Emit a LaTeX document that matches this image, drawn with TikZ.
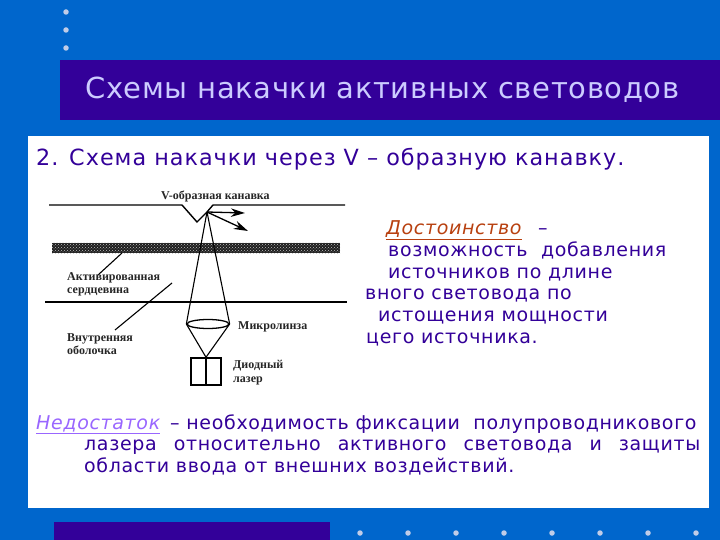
\documentclass[tikz,border=0pt]{standalone}
\usepackage{fontspec}
\setmainfont{DejaVu Sans}
\newfontfamily\figfont{Liberation Serif}
\newfontfamily\wideface[LetterSpace=3.5]{DejaVu Sans}
\newfontfamily\headface[LetterSpace=4.5]{DejaVu Sans}
\newfontfamily\titleface[LetterSpace=2.2]{DejaVu Sans}
\usepackage{xcolor}
\usetikzlibrary{arrows.meta, patterns, shapes.geometric}
\definecolor{slideblue}{HTML}{0066CC}
\definecolor{slideviolet}{HTML}{330099}
\definecolor{titlelilac}{HTML}{CCCCFF}
\definecolor{dotgrey}{HTML}{C0CCE8}
\definecolor{meritred}{HTML}{B8400F}
\definecolor{flawviolet}{HTML}{9966FF}

\begin{document}
\begin{tikzpicture}[
  x=1pt, y=-1pt,
  dot/.style={circle, fill=dotgrey, inner sep=0pt, minimum size=5.5pt},
  bar/.style={fill=slideviolet, draw=none},
  bodytext/.style={anchor=base west, inner sep=0pt, text=slideviolet, font=\wideface\fontsize{19}{20}\selectfont},
  figtext/.style={anchor=base west, inner sep=0pt, text=black!85, font=\figfont\bfseries\fontsize{12}{13}\selectfont, align=left},
  fibre/.style={line width=1.4pt, black},
  ray/.style={line width=1.1pt, black},
  arr/.style={-{Stealth[length=5mm, width=3mm]}, line width=1.3pt, black},
]
  \useasboundingbox (0,0) rectangle (720,540);
  \fill[slideblue] (0,0) rectangle (720,540);
  % top dots and bars
  \foreach \y in {12,30,48} \node[dot] (topdot\y) at (66,\y) {};
  \foreach \x in {360,408,...,696} \node[dot] (botdot\x) at (\x,533) {};
  \fill[bar] (60,60) rectangle (720,120);
  \fill[bar] (54,522) rectangle (330,540);
  \fill[white] (28,136) rectangle (709,508);
  \node[anchor=base west, inner sep=0pt, text=titlelilac, font=\titleface\fontsize{29}{34}\selectfont] (title) at (85,99) {Схемы накачки активных световодов};
  \node[bodytext, font=\headface\fontsize{22.3}{24}\selectfont] (heading) at (36,166) {2. Схема накачки через V – образную канавку.};

  % fibre figure
  \coordinate (topL) at (49,205);
  \coordinate (grooveA) at (182,205);
  \coordinate (grooveB) at (197,222);
  \coordinate (tip) at (207,212);
  \coordinate (grooveC) at (213,205);
  \coordinate (topR) at (345,205);
  \draw[fibre] (topL) -- (grooveA) -- (grooveB) -- (tip) -- (grooveC) -- (topR);
  \node[draw=none, fill=black!88, minimum width=288pt, minimum height=10pt, inner sep=0pt] (core) at (196,248) {};
  \fill[pattern=crosshatch dots, pattern color=white!75!black] (core.north west) rectangle (core.south east);
  \coordinate (lowL) at (45,302);
  \coordinate (lowR) at (347,302);
  \draw[fibre] (lowL) -- (lowR);
  \node[draw, ellipse, line width=1.3pt, minimum width=42pt, minimum height=9pt, inner sep=0pt] (lens) at (208,324) {};
  \node[draw, line width=1.5pt, minimum width=30pt, minimum height=27pt, inner sep=0pt] (laser) at (206,371.5) {};
  \draw[ray] (laser.north) -- (laser.south);
  \draw[ray] (laser.north) -- (lens.west);
  \draw[ray] (laser.north) -- (lens.east);
  \draw[ray] (lens.west) -- (tip);
  \draw[ray] (lens.east) -- (tip);
  \coordinate (outA) at (245,213);
  \coordinate (outB) at (248,231);
  \draw[arr] (tip) -- (outA);
  \draw[arr] (tip) -- (outB);
  \coordinate (leadA) at (122,253);
  \coordinate (leadB) at (98,275);
  \coordinate (leadC) at (172,283);
  \coordinate (leadD) at (115,330);
  \draw[ray] (leadA) -- (leadB);
  \draw[ray] (leadC) -- (leadD);
  \node[figtext] (lblgroove) at (161,200) {V-образная канавка};
  \node[figtext] (lblcore) at (67,280) {Активированная};
  \node[figtext] (lblcoreb) at (67,293) {сердцевина};
  \node[figtext] (lblclad) at (67,341) {Внутренняя};
  \node[figtext] (lblcladb) at (67,354) {оболочка};
  \node[figtext] (lbllens) at (238,329) {Микролинза};
  \node[figtext] (lbllaser) at (233,368) {Диодный};
  \node[figtext] (lbllaserb) at (233,382) {лазер};

  % merit
  \node[bodytext, text=meritred] (merit) at (386,235) {\itshape\underline{Достоинство}};
  \node[bodytext] (meritdash) at (538,235) {–};
  \node[bodytext] (meritA) at (388,256) {возможность\ \ добавления};
  \node[bodytext] (meritB) at (388,278) {источников по длине};
  \node[bodytext] (meritC) at (365,299) {вного световода по};
  \node[bodytext] (meritD) at (378,321) {истощения мощности};
  \node[bodytext] (meritE) at (366,343) {цего источника.};

  % drawback
  \node[bodytext, text=flawviolet] (flaw) at (36,429) {\itshape\underline{Недостаток}};
  \node[bodytext] (flawA) at (170,429) {– необходимость фиксации\ \ полупроводникового};
  \node[bodytext] (flawB) at (84,450) {\makebox[616pt][s]{лазера относительно активного световода и защиты}};
  \node[bodytext] (flawC) at (84,472) {области ввода от внешних воздействий.};
\end{tikzpicture}
\end{document}
